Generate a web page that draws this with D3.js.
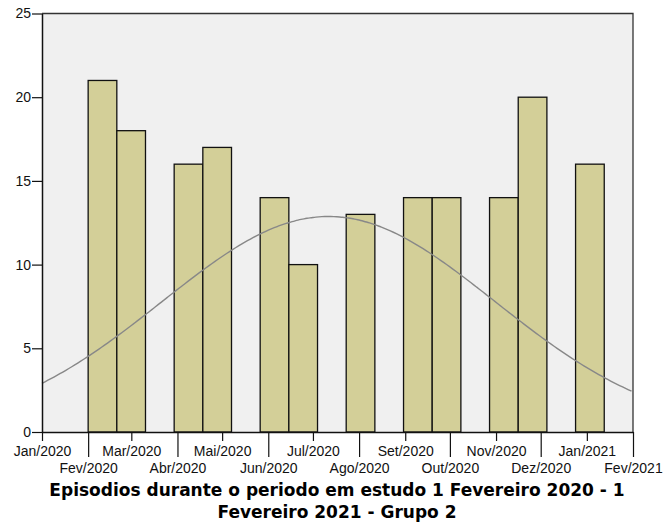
<!DOCTYPE html>
<html>
<head>
<meta charset="utf-8">
<script src="https://cdn.jsdelivr.net/npm/d3@7"></script>
<style>
  body { margin: 0; background: #fff; }
  svg { display: block; }
</style>
</head>
<body>
<svg width="663" height="529"></svg>
<script>
// contagens por classe (classes de ~19 dias a partir de 1 Fev 2020)
const classeInicio = '2020-02-01';
const classeLargura = 19.26; // dias
const contagens = [21, 18, 0, 16, 17, 0, 14, 10, 0, 13, 0, 14, 14, 0, 14, 20, 0, 16];

// curva normal ajustada
const mediaDias = 192.5;   // dias depois de 1 Jan 2020
const desvioDias = 111.6;

// rótulos do eixo x
const rotulosX = ['Jan/2020', 'Fev/2020', 'Mar/2020', 'Abr/2020', 'Mai/2020', 'Jun/2020', 'Jul/2020',
  'Ago/2020', 'Set/2020', 'Out/2020', 'Nov/2020', 'Dez/2020', 'Jan/2021', 'Fev/2021'];
const ticksY = [0, 5, 10, 15, 20, 25];
const titulo = ['Episodios durante o periodo em estudo 1 Fevereiro 2020 - 1', 'Fevereiro 2021 - Grupo 2'];

const svg = d3.select('svg');
const dia = 864e5;
const inicio = new Date(Date.UTC(2020, 0, 1));
const fim = new Date(Date.UTC(2021, 1, 1));

const x = d3.scaleUtc().domain([inicio, fim]).range([42, 633]);
const y = d3.scaleLinear().domain([0, 25]).range([432, 13.5]);

// fundo
svg.append('rect')
  .attr('x', x.range()[0]).attr('y', y(25))
  .attr('width', x.range()[1] - x.range()[0]).attr('height', y(0) - y(25))
  .attr('fill', '#f0f0f0');

// barras
const t0 = new Date(classeInicio + 'T00:00:00Z').getTime();
const classes = contagens.map((c, i) => ({
  x0: new Date(t0 + i * classeLargura * dia),
  x1: new Date(t0 + (i + 1) * classeLargura * dia),
  n: c
})).filter(d => d.n > 0);

svg.append('g').selectAll('rect')
  .data(classes)
  .join('rect')
  .attr('x', d => x(d.x0))
  .attr('y', d => y(d.n))
  .attr('width', d => x(d.x1) - x(d.x0))
  .attr('height', d => y(0) - y(d.n))
  .attr('fill', '#d3cf98')
  .attr('stroke', '#111')
  .attr('stroke-width', 1.3);

// curva normal
const total = d3.sum(contagens);
const pico = total * classeLargura / (desvioDias * Math.sqrt(2 * Math.PI));
const pontos = d3.range(0, 397.5, 2).map(d => [d, pico * Math.exp(-0.5 * ((d - mediaDias) / desvioDias) ** 2)]);
svg.append('path')
  .datum(pontos)
  .attr('fill', 'none')
  .attr('stroke', '#888')
  .attr('stroke-width', 1.4)
  .attr('d', d3.line().x(d => x(new Date(inicio.getTime() + d[0] * dia))).y(d => y(d[1])).curve(d3.curveBasis));

// moldura topo/direita
svg.append('path')
  .attr('d', `M${x.range()[0]},${y(25)}H${x.range()[1]}V${y(0)}`)
  .attr('fill', 'none').attr('stroke', '#333').attr('stroke-width', 1.3);

// eixo y
const eixoY = svg.append('g')
  .attr('transform', `translate(${x.range()[0]},0)`)
  .call(d3.axisLeft(y).tickValues(ticksY).tickSize(10).tickPadding(1).tickSizeOuter(0));

// eixo x: meses alternados em duas linhas
const meses = d3.utcMonth.range(inicio, new Date(fim.getTime() + 1));
const fmt = d => rotulosX[meses.findIndex(m => +m === +d)];
const eixoX1 = svg.append('g')
  .attr('transform', `translate(0,${y(0)})`)
  .call(d3.axisBottom(x).tickValues(meses.filter((m, i) => i % 2 === 0)).tickFormat(fmt)
    .tickSize(9).tickPadding(5).tickSizeOuter(0));
const eixoX2 = svg.append('g')
  .attr('transform', `translate(0,${y(0)})`)
  .call(d3.axisBottom(x).tickValues(meses.filter((m, i) => i % 2 === 1)).tickFormat(fmt)
    .tickSize(25).tickPadding(6).tickSizeOuter(0));

[eixoY, eixoX1, eixoX2].forEach(g => {
  g.selectAll('text').attr('font-family', '"Liberation Sans", Arial, sans-serif').attr('font-size', 14).attr('fill', '#111');
  g.selectAll('line').attr('stroke', '#111').attr('stroke-width', 1.2);
  g.select('.domain').attr('stroke', '#111').attr('stroke-width', 1.5);
});
eixoX2.select('.domain').remove();

// título
svg.append('text')
  .attr('x', 337).attr('text-anchor', 'middle')
  .attr('font-family', '"DejaVu Sans", Verdana, sans-serif')
  .attr('font-weight', 'bold').attr('font-size', 17)
  .attr('fill', '#000')
  .selectAll('tspan')
  .data(titulo)
  .join('tspan')
  .attr('x', 337)
  .attr('y', (d, i) => 496 + i * 21.5)
  .text(d => d);
</script>
</body>
</html>
